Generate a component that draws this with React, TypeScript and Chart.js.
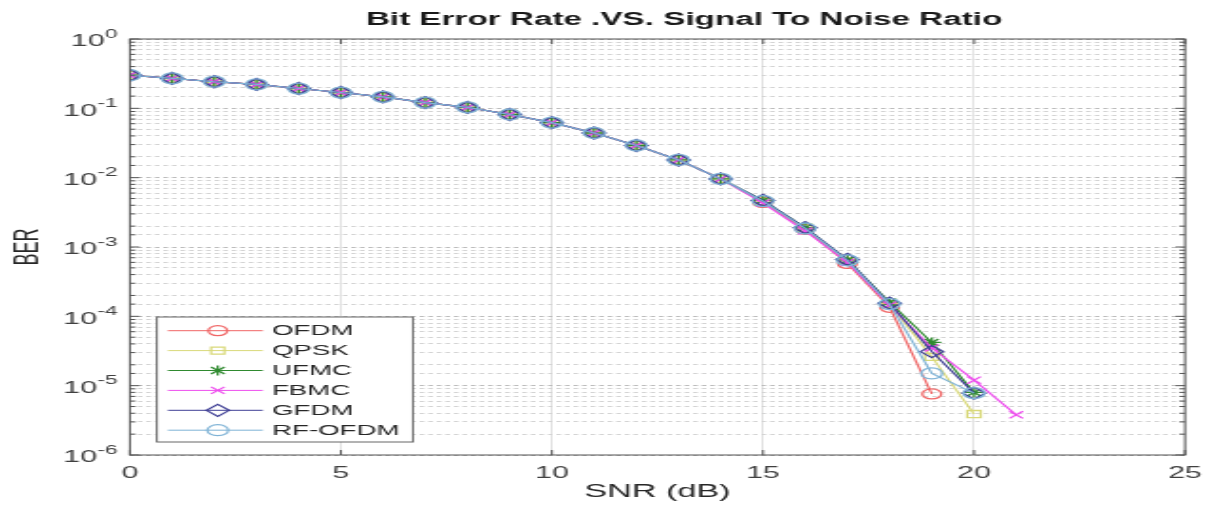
import React, { useEffect, useRef } from 'react';
import { Chart, registerables } from 'chart.js';

Chart.register(...registerables);

// ---- data ----
const snrDb = [0, 1, 2, 3, 4, 5, 6, 7, 8, 9, 10, 11, 12, 13, 14, 15, 16, 17, 18, 19, 20, 21];

const seriesNames = ['OFDM', 'QPSK', 'UFMC', 'FBMC', 'GFDM', 'RF-OFDM'];

const ofdmBer = [0.30, 0.27, 0.242, 0.221, 0.193, 0.169, 0.146, 0.121, 0.103, 0.0815, 0.0621, 0.0441, 0.0291, 0.018, 0.0096, 0.0044, 0.0018, 0.00058, 0.000135, 0.0000076];
const qpskBer = [0.30, 0.27, 0.242, 0.221, 0.193, 0.169, 0.146, 0.121, 0.103, 0.0815, 0.0621, 0.0441, 0.0291, 0.018, 0.0096, 0.0045, 0.0019, 0.00062, 0.00015, 0.000026, 0.0000039];
const ufmcBer = [0.30, 0.27, 0.242, 0.221, 0.193, 0.169, 0.146, 0.121, 0.103, 0.0815, 0.0621, 0.0441, 0.0291, 0.018, 0.0096, 0.0047, 0.0019, 0.00065, 0.00016, 0.000042, 0.000008];
const fbmcBer = [0.30, 0.27, 0.242, 0.221, 0.193, 0.169, 0.146, 0.121, 0.103, 0.0815, 0.0621, 0.0441, 0.0291, 0.018, 0.0096, 0.0043, 0.0017, 0.0006, 0.000145, 0.000035, 0.000012, 0.0000038];
const gfdmBer = [0.30, 0.27, 0.242, 0.221, 0.193, 0.169, 0.146, 0.121, 0.103, 0.0815, 0.0621, 0.0441, 0.0291, 0.018, 0.0096, 0.0047, 0.0019, 0.00066, 0.000155, 0.000031, 0.0000078];
const rfOfdmBer = [0.30, 0.27, 0.242, 0.221, 0.193, 0.169, 0.146, 0.121, 0.103, 0.0815, 0.0621, 0.0441, 0.0291, 0.018, 0.0096, 0.0046, 0.00185, 0.00064, 0.00015, 0.000015, 0.0000078];

const berSeries = [ofdmBer, qpskBer, ufmcBer, fbmcBer, gfdmBer, rfOfdmBer];

const yTickExponents = [0, -1, -2, -3, -4, -5, -6];
const xTickStep = 5;
const xMin = 0;
const xMax = 25;

const chartTitle = 'Bit Error Rate .VS. Signal To Noise Ratio';
const xAxisTitle = 'SNR (dB)';
const yAxisTitle = 'BER';

// ---- styles ----
const seriesColors = ['#f06565', '#d9d97a', '#2f8a2f', '#ee4dee', '#3f3f95', '#7fb3d6'];
const seriesMarkers = ['circle', 'rect', 'star', 'crossRot', 'rectRot', 'circle'];
const seriesMarkerRadius = [5, 5, 5, 5, 6, 5.5];

const FONT = '"Liberation Sans", Arial, Helvetica, sans-serif';
const CANVAS_W = 642;
const CANVAS_H = 506;
const DISPLAY_W = 1219;

function drawMarker(ctx: CanvasRenderingContext2D, style: string, x: number, y: number, r: number) {
  const d = r * Math.SQRT1_2;
  ctx.beginPath();
  if (style === 'circle') {
    ctx.arc(x, y, r, 0, Math.PI * 2);
  } else if (style === 'rect') {
    ctx.rect(x - d, y - d, 2 * d, 2 * d);
  } else if (style === 'rectRot') {
    ctx.moveTo(x, y - r);
    ctx.lineTo(x + r, y);
    ctx.lineTo(x, y + r);
    ctx.lineTo(x - r, y);
    ctx.closePath();
  } else if (style === 'crossRot') {
    ctx.moveTo(x - d, y - d);
    ctx.lineTo(x + d, y + d);
    ctx.moveTo(x - d, y + d);
    ctx.lineTo(x + d, y - d);
  } else if (style === 'star') {
    ctx.moveTo(x - r, y);
    ctx.lineTo(x + r, y);
    ctx.moveTo(x, y - r);
    ctx.lineTo(x, y + r);
    ctx.moveTo(x - d, y - d);
    ctx.lineTo(x + d, y + d);
    ctx.moveTo(x - d, y + d);
    ctx.lineTo(x + d, y - d);
  }
  ctx.stroke();
}

const isDecade = (v: number) => {
  const lg = Math.log10(v);
  return Math.abs(lg - Math.round(lg)) < 1e-6;
};

const decorPlugin = {
  id: 'matlabDecor',
  afterDraw(chart: any) {
    const ctx: CanvasRenderingContext2D = chart.ctx;
    const area = chart.chartArea;
    const xs = chart.scales.x;
    const ys = chart.scales.y;
    ctx.save();

    // axes box
    ctx.strokeStyle = '#555555';
    ctx.lineWidth = 1;
    ctx.setLineDash([]);
    ctx.strokeRect(area.left, area.top, area.right - area.left, area.bottom - area.top);

    // inner ticks on y (log) axis
    ctx.beginPath();
    for (const t of ys.ticks) {
      const py = ys.getPixelForValue(t.value);
      const len = isDecade(t.value) ? 5 : 3;
      ctx.moveTo(area.left, py);
      ctx.lineTo(area.left + len, py);
      ctx.moveTo(area.right, py);
      ctx.lineTo(area.right - len, py);
    }
    // inner ticks on x axis
    for (const t of xs.ticks) {
      const px = xs.getPixelForValue(t.value);
      ctx.moveTo(px, area.bottom);
      ctx.lineTo(px, area.bottom - 5);
      ctx.moveTo(px, area.top);
      ctx.lineTo(px, area.top + 5);
    }
    ctx.stroke();

    // y tick labels 10^k
    ctx.fillStyle = '#404040';
    ctx.textAlign = 'right';
    ctx.textBaseline = 'middle';
    const labelRight = area.left - 6.4;
    for (const e of yTickExponents) {
      const py = ys.getPixelForValue(Math.pow(10, e));
      const expStr = String(e);
      ctx.font = `12px ${FONT}`;
      const ew = ctx.measureText(expStr).width;
      ctx.fillText(expStr, labelRight, py - 4.5);
      ctx.font = `16px ${FONT}`;
      ctx.fillText('10', labelRight - ew - 0.3, py + 3);
    }

    // title
    ctx.fillStyle = '#1a1a1a';
    ctx.font = `bold 17.5px ${FONT}`;
    ctx.textAlign = 'center';
    ctx.textBaseline = 'middle';
    ctx.fillText(chartTitle, (area.left + area.right) / 2 + 14, 20);

    // legend
    const rowH = 19.9;
    ctx.font = `14.6px ${FONT}`;
    let maxW = 0;
    for (const n of seriesNames) maxW = Math.max(maxW, ctx.measureText(n).width);
    const boxL = area.left + 14.2;
    const boxB = area.bottom - 13;
    const boxT = boxB - 125;
    const textX = boxL + 60.6;
    const boxR = textX + maxW + 7;
    ctx.fillStyle = '#ffffff';
    ctx.fillRect(boxL, boxT, boxR - boxL, boxB - boxT);
    ctx.strokeStyle = '#666666';
    ctx.lineWidth = 1;
    ctx.strokeRect(boxL, boxT, boxR - boxL, boxB - boxT);
    ctx.textAlign = 'left';
    ctx.textBaseline = 'middle';
    seriesNames.forEach((name, i) => {
      const cy = boxT + 13.7 + i * rowH;
      ctx.strokeStyle = seriesColors[i];
      ctx.lineWidth = 1;
      ctx.beginPath();
      ctx.moveTo(boxL + 5.8, cy);
      ctx.lineTo(boxL + 55.8, cy);
      ctx.stroke();
      ctx.lineWidth = 1.2;
      drawMarker(ctx, seriesMarkers[i], boxL + 32.1, cy, seriesMarkerRadius[i]);
      ctx.fillStyle = '#262626';
      ctx.fillText(name, textX, cy + 0.5);
    });

    ctx.restore();
  },
};

export default function App() {
  const canvasRef = useRef<HTMLCanvasElement | null>(null);

  useEffect(() => {
    const canvas = canvasRef.current;
    if (!canvas) return;
    const datasets = seriesNames.map((name, i) => ({
      label: name,
      data: berSeries[i].map((v, j) => ({ x: snrDb[j], y: v })),
      borderColor: seriesColors[i],
      backgroundColor: 'rgba(0,0,0,0)',
      borderWidth: 1.2,
      pointStyle: seriesMarkers[i],
      pointRadius: seriesMarkerRadius[i],
      pointBorderWidth: 1.3,
      pointBorderColor: seriesColors[i],
      pointBackgroundColor: 'rgba(0,0,0,0)',
      tension: 0,
      fill: false,
      order: seriesNames.length - 1 - i,
    }));

    const chart = new Chart(canvas, {
      type: 'line',
      data: { datasets },
      plugins: [decorPlugin],
      options: {
        responsive: false,
        devicePixelRatio: 1,
        animation: false,
        layout: { padding: { top: 39, right: 12.5, left: 0, bottom: 0 } },
        plugins: {
          legend: { display: false },
          title: { display: false },
          tooltip: { enabled: false },
        },
        scales: {
          x: {
            type: 'linear',
            min: xMin,
            max: xMax,
            ticks: {
              stepSize: xTickStep,
              font: { family: FONT, size: 16 },
              color: '#404040',
              padding: 9,
              maxRotation: 0,
            },
            grid: { color: '#e2e2e2', drawTicks: false, lineWidth: 1 },
            border: { display: false },
            title: {
              display: true,
              text: xAxisTitle,
              font: { family: FONT, size: 18 },
              color: '#262626',
              padding: { top: 0, bottom: 3 },
            },
            afterFit: (s: any) => {
              s.height = 51;
            },
          },
          y: {
            type: 'logarithmic',
            min: 1e-6,
            max: 1,
            ticks: { display: false },
            grid: {
              color: (c: any) => (c.tick && isDecade(c.tick.value) ? '#bdbdbd' : '#d4d4d4'),
              drawTicks: false,
              lineWidth: 1,
            },
            border: { display: false, dash: [2.5, 2] },
            title: {
              display: true,
              text: yAxisTitle,
              font: { family: FONT, size: 18 },
              color: '#262626',
              padding: { top: 4.5, bottom: 0 },
            },
            afterFit: (s: any) => {
              s.width = 68.4;
            },
          },
        },
      } as any,
    });
    return () => chart.destroy();
  }, []);

  return (
    <div style={{ position: 'fixed', left: 0, top: 0, width: DISPLAY_W, height: CANVAS_H, background: '#ffffff' }}>
      <canvas
        ref={canvasRef}
        width={CANVAS_W}
        height={CANVAS_H}
        style={{ width: `${DISPLAY_W}px`, height: `${CANVAS_H}px`, display: 'block' }}
      />
    </div>
  );
}
